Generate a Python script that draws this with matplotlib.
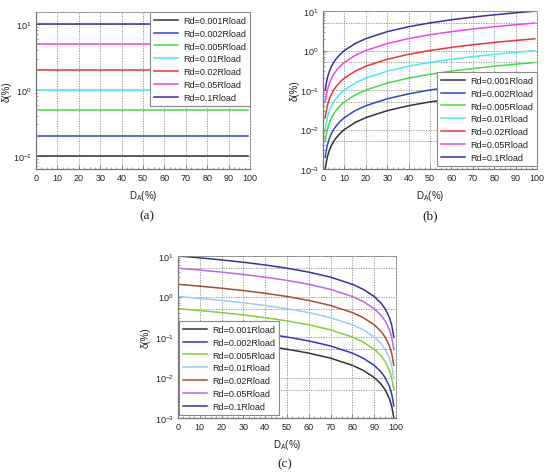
import math
import matplotlib
matplotlib.use("Agg")
import matplotlib.pyplot as plt
from matplotlib.ticker import LogLocator, FixedLocator, MultipleLocator, NullFormatter

plt.rcParams['font.family'] = ['Liberation Sans', 'DejaVu Sans']
plt.rcParams['mathtext.default'] = 'regular'

labels = ["Rd=0.001Rload", "Rd=0.002Rload", "Rd=0.005Rload", "Rd=0.01Rload",
          "Rd=0.02Rload", "Rd=0.05Rload", "Rd=0.1Rload"]

# (a) constant levels
x_a = [1, 99]
levels_a = [0.1, 0.2, 0.5, 1.0, 2.0, 5.0, 10.0]

# (b) increasing curves
x_b = [1, 2, 3, 4, 5, 6, 8, 10, 15, 20, 30, 40, 50, 60, 70, 80, 90, 99]
b_0001 = [0.001, 0.002, 0.003, 0.004, 0.005, 0.006, 0.008, 0.01, 0.015, 0.02, 0.03, 0.04, 0.05, 0.06, 0.07, 0.08, 0.09, 0.099]
b_0002 = [0.002, 0.004, 0.006, 0.008, 0.01, 0.012, 0.016, 0.02, 0.03, 0.04, 0.06, 0.08, 0.1, 0.12, 0.14, 0.16, 0.18, 0.198]
b_0005 = [0.005, 0.01, 0.015, 0.02, 0.025, 0.03, 0.04, 0.05, 0.075, 0.1, 0.15, 0.2, 0.25, 0.3, 0.35, 0.4, 0.45, 0.495]
b_001 = [0.01, 0.02, 0.03, 0.04, 0.05, 0.06, 0.08, 0.1, 0.15, 0.2, 0.3, 0.4, 0.5, 0.6, 0.7, 0.8, 0.9, 0.99]
b_002 = [0.02, 0.04, 0.06, 0.08, 0.1, 0.12, 0.16, 0.2, 0.3, 0.4, 0.6, 0.8, 1.0, 1.2, 1.4, 1.6, 1.8, 1.98]
b_005 = [0.05, 0.1, 0.15, 0.2, 0.25, 0.3, 0.4, 0.5, 0.75, 1.0, 1.5, 2.0, 2.5, 3.0, 3.5, 4.0, 4.5, 4.95]
b_01 = [0.1, 0.2, 0.3, 0.4, 0.5, 0.6, 0.8, 1.0, 1.5, 2.0, 3.0, 4.0, 5.0, 6.0, 7.0, 8.0, 9.0, 9.9]
series_b = [b_0001, b_0002, b_0005, b_001, b_002, b_005, b_01]

# (c) decreasing curves
x_c = [0, 10, 20, 30, 40, 50, 60, 70, 80, 85, 90, 93, 95, 97, 98, 99]
c_0001 = [0.1, 0.09, 0.08, 0.07, 0.06, 0.05, 0.04, 0.03, 0.02, 0.015, 0.01, 0.007, 0.005, 0.003, 0.002, 0.001]
c_0002 = [0.2, 0.18, 0.16, 0.14, 0.12, 0.1, 0.08, 0.06, 0.04, 0.03, 0.02, 0.014, 0.01, 0.006, 0.004, 0.002]
c_0005 = [0.5, 0.45, 0.4, 0.35, 0.3, 0.25, 0.2, 0.15, 0.1, 0.075, 0.05, 0.035, 0.025, 0.015, 0.01, 0.005]
c_001 = [1.0, 0.9, 0.8, 0.7, 0.6, 0.5, 0.4, 0.3, 0.2, 0.15, 0.1, 0.07, 0.05, 0.03, 0.02, 0.01]
c_002 = [2.0, 1.8, 1.6, 1.4, 1.2, 1.0, 0.8, 0.6, 0.4, 0.3, 0.2, 0.14, 0.1, 0.06, 0.04, 0.02]
c_005 = [5.0, 4.5, 4.0, 3.5, 3.0, 2.5, 2.0, 1.5, 1.0, 0.75, 0.5, 0.35, 0.25, 0.15, 0.1, 0.05]
c_01 = [10.0, 9.0, 8.0, 7.0, 6.0, 5.0, 4.0, 3.0, 2.0, 1.5, 1.0, 0.7, 0.5, 0.3, 0.2, 0.1]
series_c = [c_0001, c_0002, c_0005, c_001, c_002, c_005, c_01]

x_ticks = [0, 10, 20, 30, 40, 50, 60, 70, 80, 90, 100]

colors_ab = ['#333333', '#3344cc', '#44dd44', '#44eeee', '#ee3333', '#ee44ee', '#333399']
colors_c = ['#333333', '#3333cc', '#88cc33', '#99ccee', '#a0522d', '#bb66ee', '#333399']

W, H = 550, 477
fig = plt.figure(figsize=(W / 100, H / 100), dpi=100)


def box(l, r, t, b):
    return [l / W, 1 - b / H, (r - l) / W, (b - t) / H]


ax_a = fig.add_axes(box(36, 250, 13, 170))
ax_b = fig.add_axes(box(323, 537, 12, 170))
ax_c = fig.add_axes(box(178, 396, 257, 419))

tick_col = '#222222'


def style(ax, ylim, ymajor, ylab_x):
    ax.set_yscale('log')
    ax.set_xlim(0, 100)
    ax.set_ylim(*ylim)
    ax.xaxis.set_major_locator(FixedLocator(x_ticks))
    ax.xaxis.set_minor_locator(MultipleLocator(2.5))
    ax.yaxis.set_major_locator(FixedLocator(ymajor))
    ax.yaxis.set_minor_locator(LogLocator(base=10, subs=(2, 3, 4, 5, 6, 7, 8, 9), numticks=20))
    ax.yaxis.set_minor_formatter(NullFormatter())
    ax.set_yticklabels([r'$10^{%d}$' % round(math.log10(v)) for v in ymajor])
    ax.tick_params(axis='both', which='major', labelsize=6.5, labelcolor=tick_col,
                   direction='in', length=3, width=0.6, color='#777777', pad=3)
    ax.tick_params(axis='both', which='minor', direction='in', length=1.5, width=0.5, color='#777777')
    for s in ['left', 'bottom']:
        ax.spines[s].set_color('#777777')
        ax.spines[s].set_linewidth(0.9)
    for s in ['top', 'right']:
        ax.spines[s].set_color('#888888')
        ax.spines[s].set_linestyle((0, (1.5, 1.5)))
        ax.spines[s].set_linewidth(0.7)
    ax.grid(True, which='major', axis='both', color='#888888', linestyle=(0, (1.5, 1.5)), linewidth=0.6)
    ax.set_ylabel('δ(%)', fontsize=7, color=tick_col)
    ax.yaxis.set_label_coords(ylab_x, 0.5)
    ax.set_xlabel(r'D$_A$(%)', fontsize=7, color=tick_col, labelpad=4)


def add_half_grid(ax, vals):
    for v in vals:
        ax.axhline(v, color='#888888', linestyle=(0, (1.5, 1.5)), linewidth=0.6, zorder=0.5)


style(ax_a, (0.0635, 15.2), [0.1, 1, 10], -0.115)
style(ax_b, (0.001, 10), [0.001, 0.01, 0.1, 1, 10], -0.11)
style(ax_c, (0.001, 10), [0.001, 0.01, 0.1, 1, 10], -0.125)
add_half_grid(ax_b, [5, 0.5, 0.05, 0.005])
add_half_grid(ax_c, [5, 0.5, 0.05, 0.005])

for lev, col, lab in zip(levels_a, colors_ab, labels):
    ax_a.plot(x_a, [lev, lev], color=col, lw=1.1, label=lab)
for ys, col, lab in zip(series_b, colors_ab, labels):
    ax_b.plot(x_b, ys, color=col, lw=1.1, label=lab)
for ys, col, lab in zip(series_c, colors_c, labels):
    ax_c.plot(x_c, ys, color=col, lw=1.1, label=lab)

leg_kw = dict(fontsize=6.5, frameon=True, fancybox=False, edgecolor='#888888',
              handlelength=2.6, handletextpad=0.6, labelspacing=0.42, borderpad=0.45,
              borderaxespad=0.0, framealpha=1)
la = ax_a.legend(loc='upper right', bbox_to_anchor=(1.0, 1.0), **leg_kw)
lb = ax_b.legend(loc='lower right', bbox_to_anchor=(1.0, 0.02), **leg_kw)
lc = ax_c.legend(loc='lower left', bbox_to_anchor=(0.005, 0.02), **leg_kw)
for lg in (la, lb, lc):
    lg.get_frame().set_linewidth(0.8)
    for t in lg.get_texts():
        t.set_color('#222222')

cap_kw = dict(fontsize=9.5, family=['Liberation Serif', 'DejaVu Serif'], ha='center', va='center', color='#222222')
fig.text(147 / W, 1 - 216 / H, '(a)', **cap_kw)
fig.text(430 / W, 1 - 216 / H, '(b)', **cap_kw)
fig.text(285 / W, 1 - 464 / H, '(c)', **cap_kw)

fig.savefig('out.png', dpi=100, facecolor='white')
